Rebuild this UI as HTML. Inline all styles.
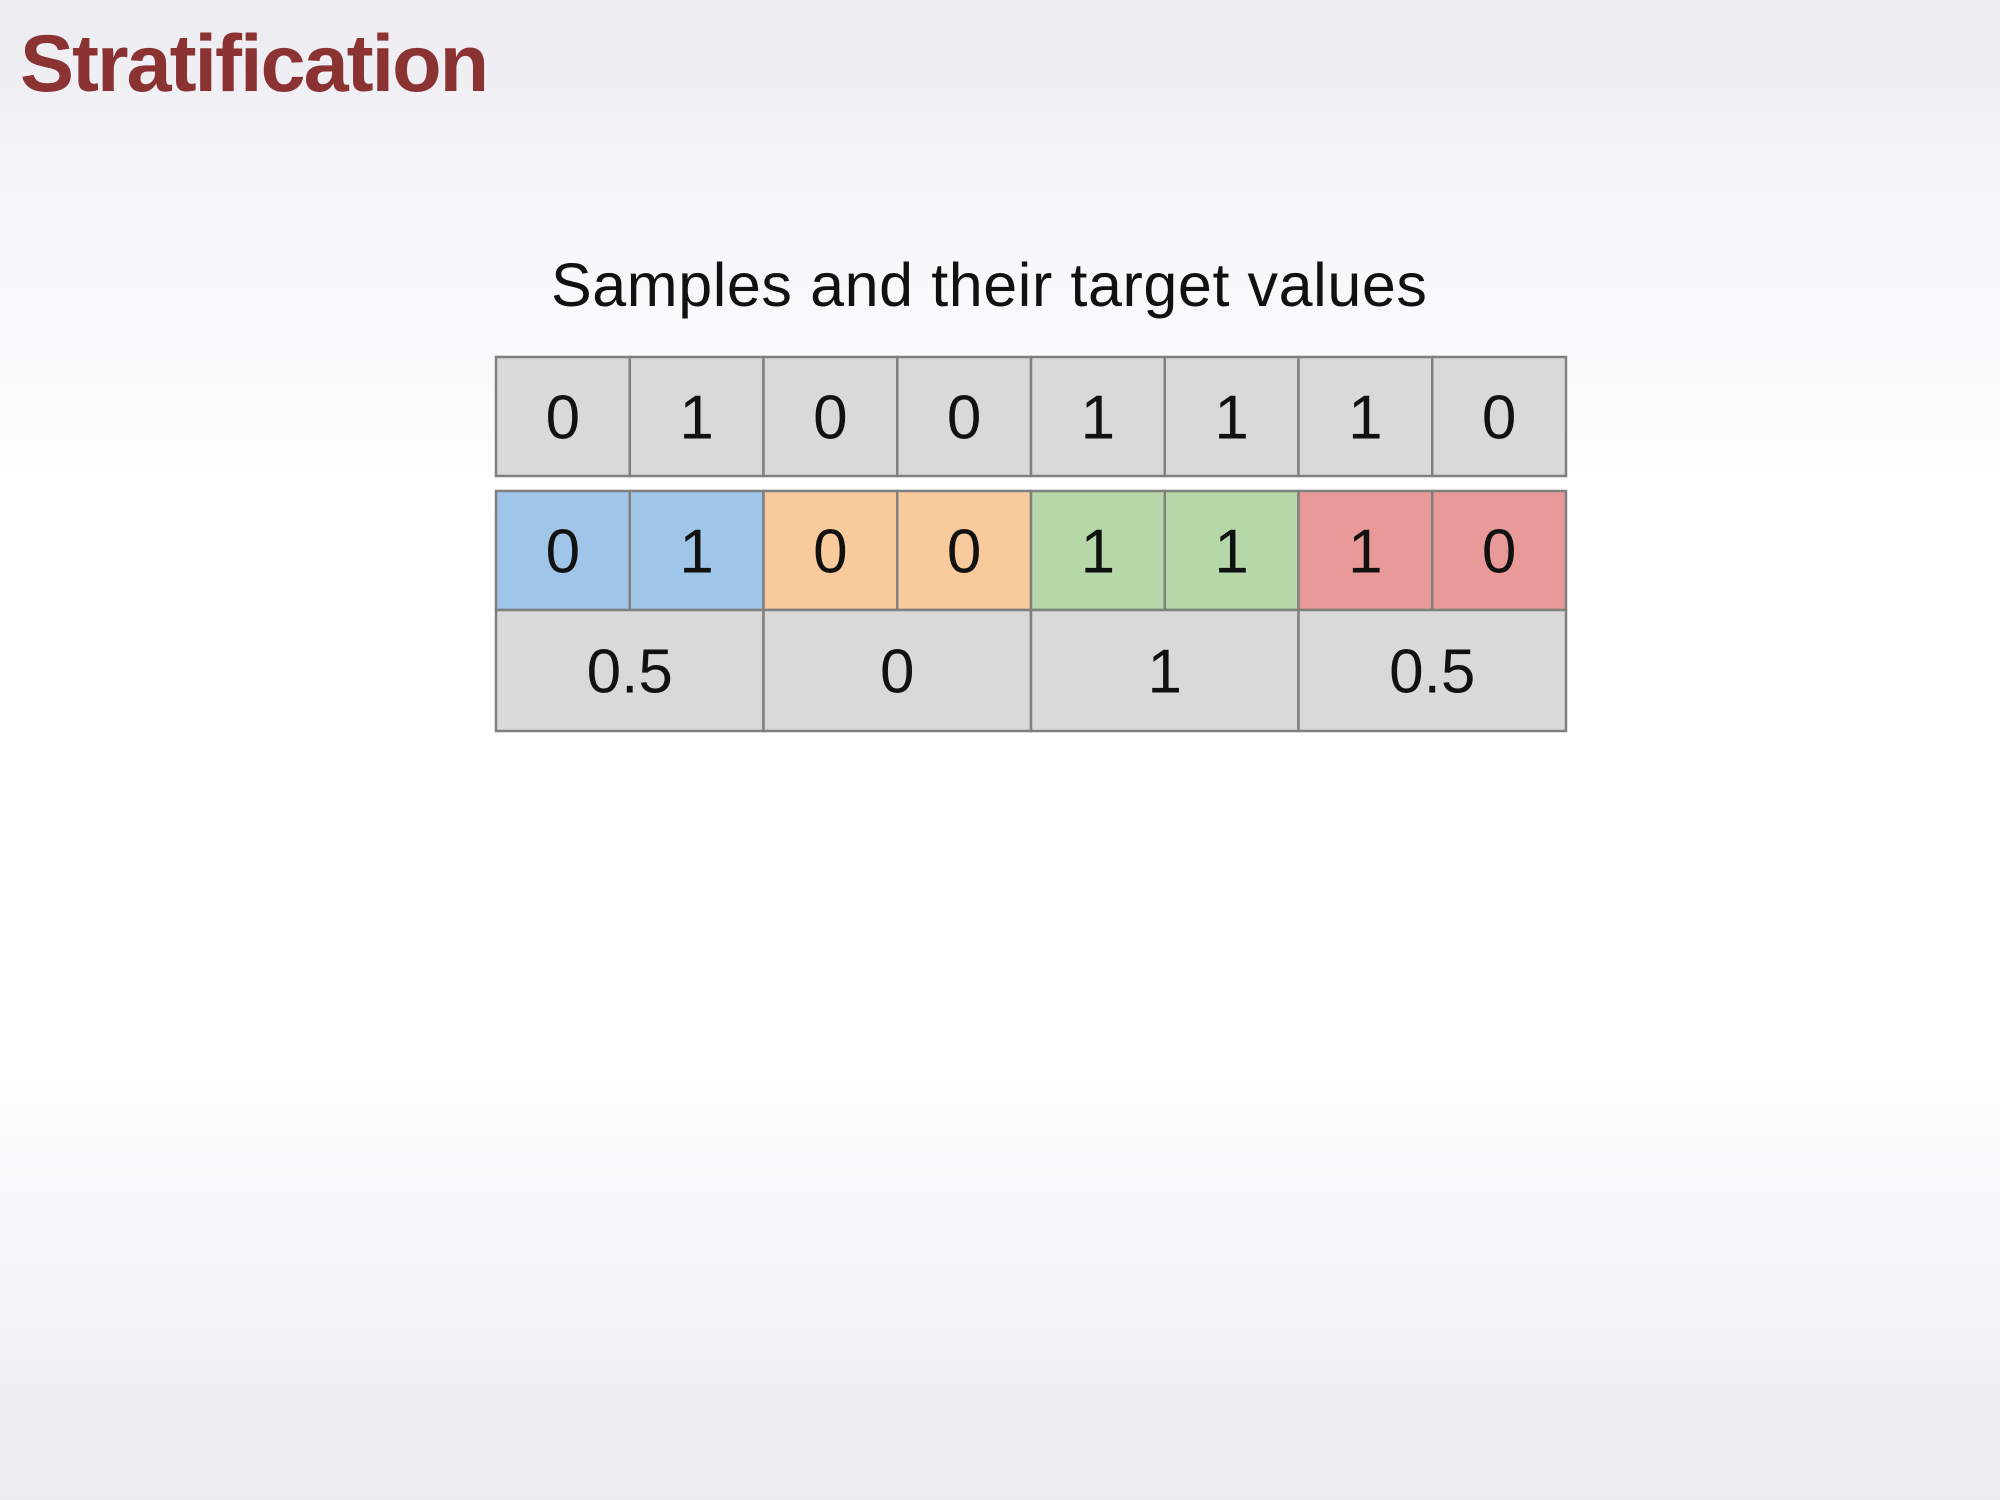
<!DOCTYPE html>
<html><head><meta charset="utf-8">
<style>
html,body{margin:0;padding:0}
body{width:2000px;height:1500px;overflow:hidden;background:linear-gradient(#ebebf1 0%,#f7f7fa 15%,#ffffff 35%,#ffffff 70%,#f5f5f8 85%,#ebebf1 100%);font-family:"Liberation Sans",sans-serif;position:relative}
#title{position:absolute;left:20px;top:18px;font-size:81px;font-weight:bold;color:#8b3333;letter-spacing:-2px}
#subtitle{position:absolute;left:551px;top:250px;font-size:61px;color:#111;letter-spacing:0.6px}
svg{position:absolute;left:0;top:0}
</style></head><body>
<div id="title">Stratification</div>
<div id="subtitle">Samples and their target values</div>
<svg id="chart" width="2000" height="1500"></svg>
<script>
const samples=[0,1,0,0,1,1,1,0];
const strataColors=["#9fc5e8","#f9cb9c","#b6d7a8","#ea9999"];
const strataMeans=["0.5","0","1","0.5"];
const NS="http://www.w3.org/2000/svg";
const svg=document.getElementById('chart');
const x0=496,cw=133.75,ch=119;
const xs=i=>x0+i*cw;
function rect(x,y,w,h,fill,name){
  const r=document.createElementNS(NS,'rect');
  r.setAttribute('x',x);r.setAttribute('y',y);r.setAttribute('width',w);r.setAttribute('height',h);
  r.setAttribute('fill',fill);r.setAttribute('stroke','#808080');r.setAttribute('stroke-width','2.5');
  
  
  svg.appendChild(r);
}
function text(x,y,s,name){
  const t=document.createElementNS(NS,'text');
  t.setAttribute('x',x);t.setAttribute('y',y);t.setAttribute('text-anchor','middle');
  t.setAttribute('font-size','62');t.setAttribute('font-family','Liberation Sans, sans-serif');t.setAttribute('fill','#111');
  t.textContent=s;
  
  
  svg.appendChild(t);
}
const y1=357,y2=491,y3=610;
samples.forEach((v,i)=>{
  rect(xs(i),y1,cw,ch,'#d9d9d9','sample-cell');
  text(xs(i)+cw/2,y1+ch/2+22,String(v),'sample-value');
});
samples.forEach((v,i)=>{
  rect(xs(i),y2,cw,ch,strataColors[Math.floor(i/2)],'stratified-cell');
  text(xs(i)+cw/2,y2+ch/2+22,String(v),'stratified-value');
});
strataMeans.forEach((m,j)=>{
  rect(xs(j*2),y3,cw*2,ch+2,'#d9d9d9','stratum-mean-cell');
  text(xs(j*2)+cw,y3+ch/2+23,m,'stratum-mean');
});
</script>
</body></html>
